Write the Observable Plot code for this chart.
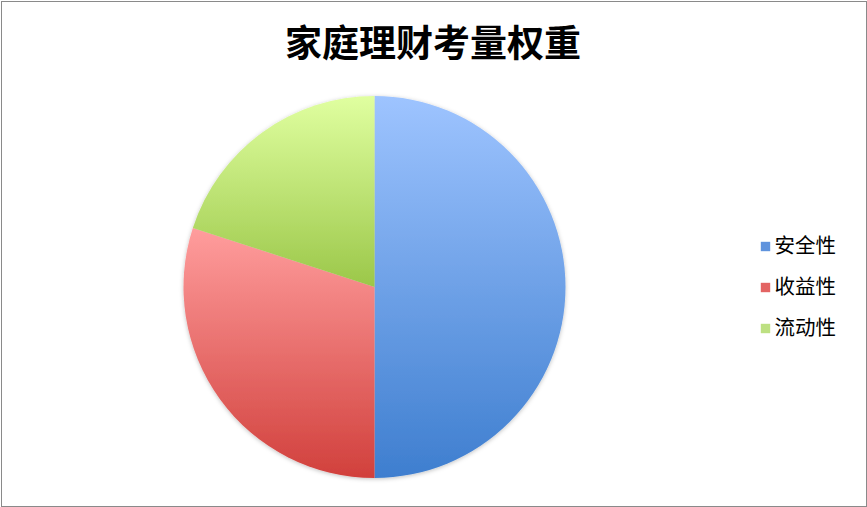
<!DOCTYPE html>
<html><head><meta charset="utf-8">
<script src="https://cdn.jsdelivr.net/npm/d3@7"></script>
<script src="https://cdn.jsdelivr.net/npm/@observablehq/plot@0.6"></script>
<style>body{margin:0;background:#fff}</style>
</head><body><div id="chart"></div>
<script>
const title = "家庭理财考量权重";
const categories = ["安全性", "收益性", "流动性"];
const values = [50, 30, 20];
const topColors = ["#9EC4FF", "#FF9D9D", "#E0FFA0"];
const bottomColors = ["#3E7ECF", "#D1403C", "#9BC749"];
const legendColors = ["#5F93DD", "#E36463", "#BDE082"];

const data = categories.map((c, i) => ({category: c, value: values[i]}));

function pieMark(rows) {
  return (index, scales, vals, dims, context) => {
    const doc = context.document;
    const g = d3.select(doc.createElementNS("http://www.w3.org/2000/svg", "g"));
    const defs = g.append("defs");
    const f = defs.append("filter").attr("id", "pieShadow").attr("x", "-10%").attr("y", "-10%").attr("width", "120%").attr("height", "120%");
    f.append("feDropShadow").attr("dx", 0).attr("dy", 1).attr("stdDeviation", 2).attr("flood-color", "#000").attr("flood-opacity", 0.25);
    rows.forEach((d, i) => {
      const lg = defs.append("linearGradient").attr("id", "grad" + i)
        .attr("x1", 0).attr("y1", 0).attr("x2", 0).attr("y2", 1);
      lg.append("stop").attr("offset", "0%").attr("stop-color", topColors[i]);
      lg.append("stop").attr("offset", "100%").attr("stop-color", bottomColors[i]);
    });
    const cx = 374.5, cy = 287, r = 191;
    const arcs = d3.pie().sort(null).value(d => d.value)(rows);
    const arc = d3.arc().innerRadius(0).outerRadius(r);
    const pg = g.append("g").attr("transform", `translate(${cx},${cy})`).attr("filter", "url(#pieShadow)");
    pg.selectAll("path").data(arcs).join("path")
      .attr("d", arc)
      .attr("fill", (d, i) => `url(#grad${i})`);
    return g.node();
  };
}

const chart = Plot.plot({
  width: 867,
  height: 507,
  margin: 0,
  x: {axis: null, domain: [0, 1]},
  y: {type: "point", domain: categories, range: [246, 328], padding: 0, axis: null},
  color: {domain: categories, range: legendColors},
  style: {fontFamily: "'Noto Sans CJK SC', sans-serif", background: "#fff"},
  marks: [
    Plot.frame({stroke: "#8a8a8a", inset: 1}),
    pieMark(data),
    Plot.text([title], {frameAnchor: "top", dx: -1, dy: 45, text: d => d, fontSize: 37, fontWeight: "bold", fill: "#000", lineAnchor: "middle"}),
    Plot.dot(data, {y: "category", frameAnchor: "left", dx: 765, symbol: "square", r: 5.3, fill: "category", stroke: null}),
    Plot.text(data, {y: "category", frameAnchor: "left", dx: 774, text: "category", textAnchor: "start", fontSize: 20.5, fill: "#000"})
  ]
});
document.getElementById("chart").appendChild(chart);
</script>
</body></html>
